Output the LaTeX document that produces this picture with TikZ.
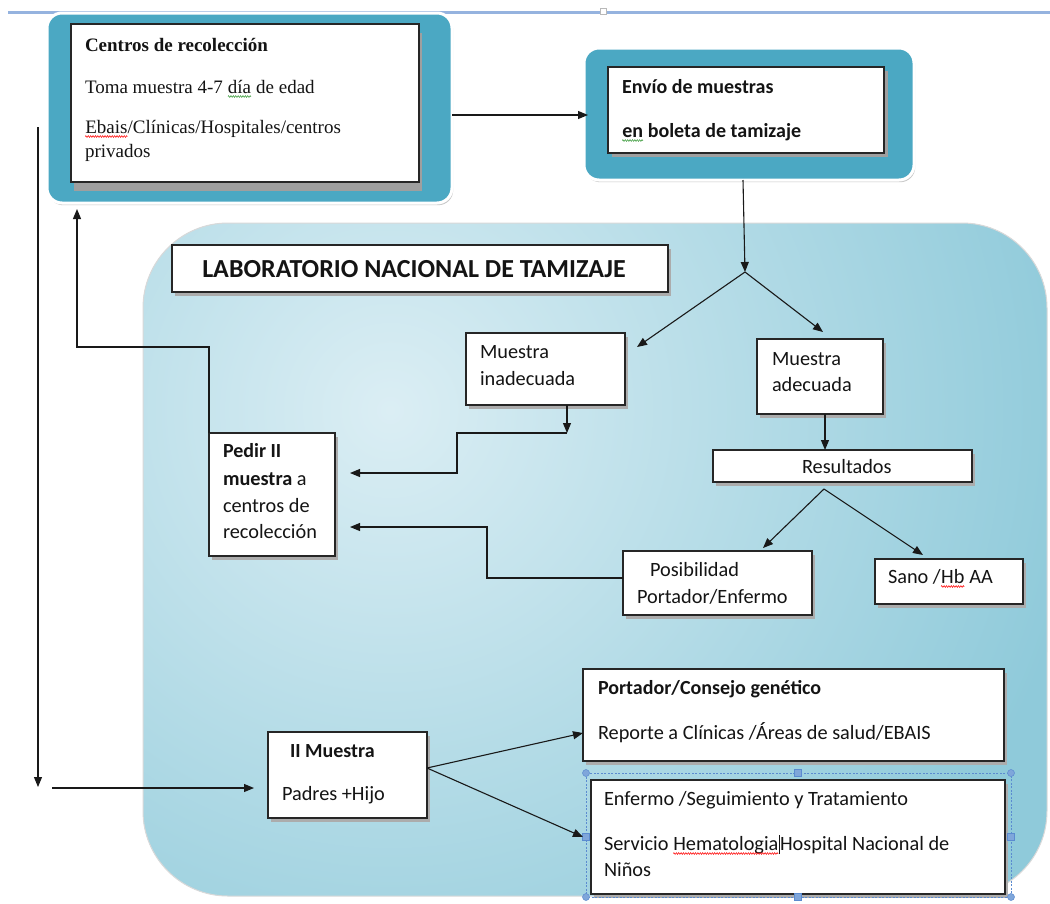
\documentclass[tikz,border=0pt]{standalone}
\usepackage{fontspec}
\setmainfont{Carlito}
\newfontfamily\serifTNR{Liberation Serif}
\usetikzlibrary{arrows.meta,fit,calc,shadows,decorations.pathmorphing}
\definecolor{tealbox}{HTML}{4BA8C3}
\definecolor{regLight}{HTML}{DBEEF4}
\definecolor{regDark}{HTML}{8FCADA}
\definecolor{topline}{HTML}{95B3DF}
\definecolor{selblue}{HTML}{5B8BD0}
\definecolor{handle}{HTML}{7FA6DA}
\definecolor{spellgreen}{HTML}{3A9A3A}
\newcommand\wavecol[2]{\tikz[baseline=(wv.base)]{\node[inner sep=0pt,outer sep=0pt,anchor=base west] (wv) at (0pt,0pt) {#2};
  \draw[#1, line width=0.5pt, decorate, decoration={zigzag,amplitude=0.9pt,segment length=2.4pt}] ([yshift=-3.5pt]wv.base west) -- ([yshift=-3.5pt]wv.base east);}}
\begin{document}
\begin{tikzpicture}[x=1pt,y=-1pt,
  wbox/.style={draw=black!85, line width=1.2pt, fill=white, inner sep=0pt, outer sep=0pt},
  shad/.style={drop shadow={shadow xshift=3pt, shadow yshift=-4pt, fill=gray!65, opacity=1}},
  tealo/.style={draw=white, line width=3pt, fill=tealbox, rounded corners=15pt, inner sep=0pt, outer sep=0pt,
     drop shadow={shadow xshift=1.2pt, shadow yshift=-2.2pt, fill=gray!45, opacity=1}},
  txt/.style={anchor=base west, inner sep=0pt, outer sep=0pt, text=black!92, font=\fontsize{20.3}{23}\selectfont},
  btxt/.style={txt, font=\bfseries\fontsize{20}{23}\selectfont},
  stxt/.style={txt, font=\serifTNR\fontsize{19}{22}\selectfont},
  conn/.style={draw=black!90, line width=1.1pt},
  arr/.style={conn, -{Triangle[length=10pt,width=8pt]}},
  hcirc/.style={circle, fill=handle, draw=selblue, line width=0.5pt, minimum size=7pt, inner sep=0pt},
  hsq/.style={rectangle, fill=handle, draw=selblue, line width=0.5pt, minimum size=7pt, inner sep=0pt}
]
\useasboundingbox (0,0) rectangle (1050,903);
\fill[white] (0,0) rectangle (1050,903);
% top ruler line
\draw[topline, line width=3pt] (8,12) -- (1050,12);
\draw[gray!55, fill=white, line width=0.6pt] (600,8) rectangle (606,14);

% laboratory region
\begin{scope}
  \clip[rounded corners=85pt] (143,223) rectangle (1047,896);
  \fill[regDark] (143,223) rectangle (1047,896);
  \shade[inner color=regLight, outer color=regDark] (390,410) circle (700pt);
\end{scope}
\draw[gray!30, line width=1pt, rounded corners=85pt] (143,223) rectangle (1047,896);

% Centros de recoleccion
\node[tealo, fit={(47,13) (452,203)}] (cO) {};
\node[wbox, fit={(71,24) (419,182)}, drop shadow={shadow xshift=3pt, shadow yshift=-9pt, fill=gray!75, opacity=1}] (cI) {};
\node[stxt] (c1) at (85,51) {\bfseries Centros de recolección};
\node[stxt] (c2) at (85,93) {Toma muestra 4-7 \wavecol{spellgreen}{día} de edad};
\node[stxt] (c3) at (85,133) {\wavecol{red}{Ebais}/Clínicas/Hospitales/centros};
\node[stxt] (c4) at (85,157) {privados};

% Envio de muestras
\node[tealo, fit={(584,48) (914,180)}] (eO) {};
\node[wbox, fit={(608,67) (884,153)}, drop shadow={shadow xshift=4pt, shadow yshift=-4pt, fill=gray!75, opacity=1}] (eI) {};
\node[btxt] (e1) at (622,93) {Envío de muestras};
\node[btxt] (e2) at (622,137) {\wavecol{spellgreen}{en} boleta de tamizaje};

% Laboratorio title
\node[wbox, shad, fit={(172,245) (668,292)}] (lab) {};
\node[txt, anchor=base, font=\bfseries\fontsize{26}{29}\selectfont] (labt) at (414,277) {LABORATORIO NACIONAL DE TAMIZAJE};

% Muestra inadecuada / adecuada
\node[wbox, shad, fit={(466,333) (625,405)}] (inad) {};
\node[txt] (i1) at (480,358) {Muestra};
\node[txt] (i2) at (480,385) {inadecuada};
\node[wbox, shad, fit={(757,339) (883,414)}] (ad) {};
\node[txt] (a1) at (772,365) {Muestra};
\node[txt] (a2) at (772,391) {adecuada};

% Resultados
\node[wbox, shad, fit={(713,450) (972,482)}] (res) {};
\node[txt] (r1) at (802,473) {Resultados};

% Posibilidad / Sano
\node[wbox, shad, fit={(623,551) (812,615)}] (pos) {};
\node[txt] (p1) at (650,576) {Posibilidad};
\node[txt] (p2) at (637,603) {Portador/Enfermo};
\node[wbox, shad, fit={(875,559) (1023,604)}] (sano) {};
\node[txt] (s1) at (888,583) {Sano /\wavecol{red}{Hb} AA};

% Pedir II muestra
\node[wbox, shad, fit={(209,433) (335,556)}] (ped) {};
\node[btxt] (d1) at (223,457) {Pedir II};
\node[txt] (d2) at (223,485) {\textbf{muestra} a};
\node[txt] (d3) at (223,512) {centros de};
\node[txt] (d4) at (223,538) {recolección};

% II Muestra
\node[wbox, shad, fit={(268,732) (427,818)}] (m2) {};
\node[btxt] (m2a) at (290,757) {II Muestra};
\node[txt] (m2b) at (282,800) {Padres +Hijo};

% Portador
\node[wbox, shad, fit={(583,669) (1004,761)}] (port) {};
\node[btxt] (q1) at (598,694) {Portador/Consejo genético};
\node[txt] (q2) at (598,739) {Reporte a Clínicas /Áreas de salud/EBAIS};

% Enfermo (selected)
\node[wbox, shad, fit={(591,780) (1005,894)}] (enf) {};
\node[txt] (f1) at (604,805) {Enfermo /Seguimiento y Tratamiento};
\node[txt] (f2) at (604,850) {Servicio \wavecol{red}{Hematologia}\rule[-4pt]{1.4pt}{19pt}Hospital Nacional de};
\node[txt] (f3) at (604,876) {Niños};
\draw[selblue, line width=0.6pt, dash pattern=on 2pt off 1.5pt] (586,773) rectangle (1011,897);
\node[hcirc] (h1) at (586,773) {};
\node[hcirc] (h2) at (1011,773) {};
\node[hcirc] (h3) at (586,897) {};
\node[hcirc] (h4) at (1011,897) {};
\node[hsq] (h5) at (798,773) {};
\node[hsq] (h6) at (798,897) {};
\node[hsq] (h7) at (586,837) {};
\node[hsq] (h8) at (1011,837) {};

% connectors
\coordinate (lt) at (38,127);
\coordinate (lb) at (38,787);
\draw[arr] (lt) -- (lb);
\coordinate (hl) at (52,788);
\coordinate (hlt) at (254,788);
\draw[arr] (hl) -- (hlt);

\draw[arr] (cO.east |- 0,115) -- ([xshift=4pt]eO.west |- 0,115);

\coordinate (v1) at (745,272);
\draw[arr] (743,0 |- eO.south) -- (v1);
\coordinate (tInad) at (637,347);
\coordinate (tAd) at (823,332);
\draw[arr] (v1) -- (tInad);
\draw[arr] (v1) -- (tAd);

\draw[arr] (825,0 |- ad.south) -- (825,0 |- res.north);

\coordinate (v2) at (824,489);
\coordinate (tPos) at (763,548);
\coordinate (tSano) at (923,555);
\draw[arr] (v2) -- (tPos);
\draw[arr] (v2) -- (tSano);

\coordinate (j1) at (567,433);
\coordinate (tP1) at (350,473);
\coordinate (tP2) at (350,527);
\draw[arr] (567,0 |- inad.south) -- (j1);
\draw[arr] (j1) -| (457,473) -- (tP1);
\draw[arr] (pos.west |- 0,578) -| (487,527) -- (tP2);

\coordinate (tC) at (77,209);
\draw[arr] (ped.north west) |- (77,347) -- (tC);

\draw[arr] (m2.east |- 0,768) -- (port.west |- 0,733);
\draw[arr] (m2.east |- 0,768) -- (port.west |- 0,837);
\end{tikzpicture}
\end{document}
